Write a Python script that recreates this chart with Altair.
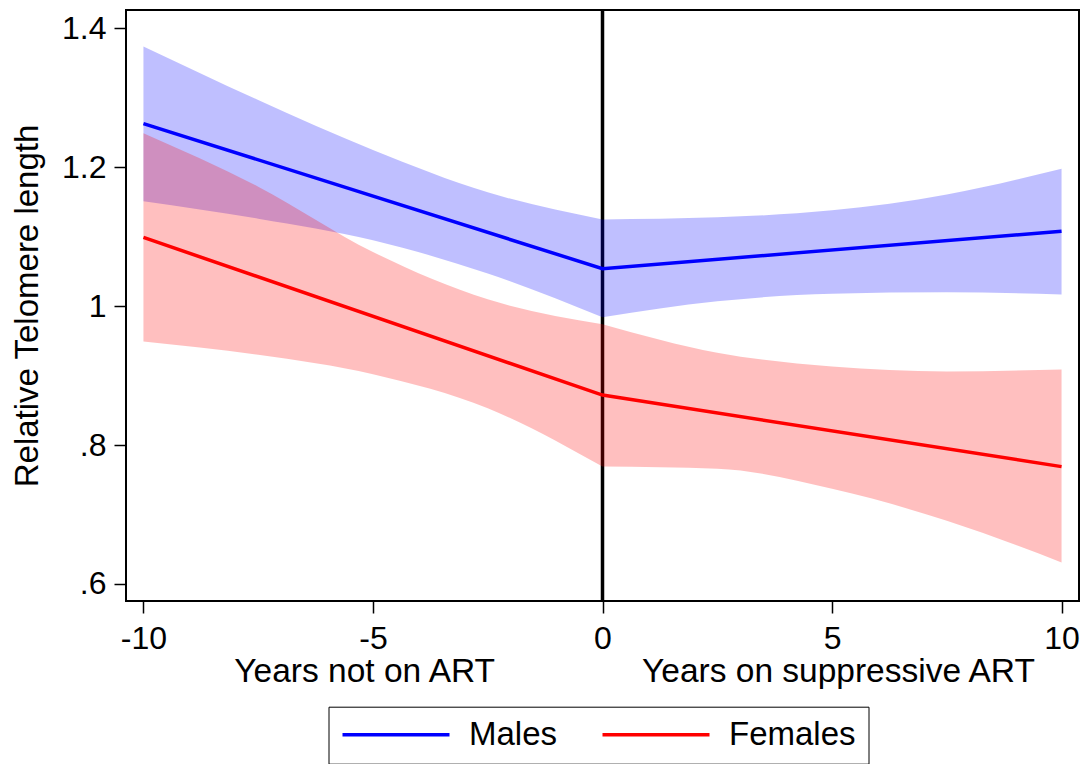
import altair as alt
import pandas as pd

FONT = "Liberation Sans"

# ---- data ----
series = ["Males", "Females"]
colors = ["#0000ff", "#ff0000"]

band_years = [-10, -7.5, -5, -2.5, 0, 2.5, 5, 7.5, 10]
male_hi = [1.374, 1.297, 1.225, 1.164, 1.125, 1.128, 1.138, 1.161, 1.198]
male_lo = [1.151, 1.126, 1.095, 1.047, 0.984, 1.007, 1.018, 1.020, 1.017]
female_hi = [1.249, 1.172, 1.078, 1.010, 0.974, 0.933, 0.913, 0.906, 0.909]
female_lo = [0.949, 0.930, 0.902, 0.853, 0.769, 0.766, 0.737, 0.691, 0.631]

line_years = [-10, 0, 10]
male_fit = [1.263, 1.054, 1.108]
female_fit = [1.099, 0.872, 0.769]

x_ticks = [-10, -5, 0, 5, 10]
y_ticks = [0.6, 0.8, 1.0, 1.2, 1.4]
x_titles = ["Years not on ART", "Years on suppressive ART"]
x_title_at = [-5.18, 5.14]

# ---- tables ----
band_rows = []
for name, hi, lo in [("Males", male_hi, male_lo), ("Females", female_hi, female_lo)]:
    for xv, h, l in zip(band_years, hi, lo):
        if xv <= 0:
            band_rows.append({"series": name, "seg": "pre", "x": xv, "hi": h, "lo": l})
        if xv >= 0:
            band_rows.append({"series": name, "seg": "post", "x": xv, "hi": h, "lo": l})
bands = pd.DataFrame(band_rows)

line_rows = []
for name, fit in [("Males", male_fit), ("Females", female_fit)]:
    for xv, v in zip(line_years, fit):
        line_rows.append({"series": name, "x": xv, "y": v})
lines = pd.DataFrame(line_rows)

titles_df = pd.DataFrame({"x": x_title_at, "t": x_titles})
zero_df = pd.DataFrame({"x": [0]})

x_scale = alt.Scale(domain=[-10.38, 10.38], nice=False, zero=False)
y_scale = alt.Scale(domain=[0.5755, 1.4265], nice=False, zero=False)

x_axis = alt.Axis(
    title=None, values=x_ticks, labelExpr="datum.value + ''", grid=False, domain=False,
    labelFont=FONT, labelFontSize=32, labelColor="black", labelBaseline="alphabetic",
    labelPadding=35, labelFlush=False, labelOverlap=False,
    tickSize=12, tickColor="black", tickWidth=1.5,
)
y_axis = alt.Axis(
    title="Relative Telomere length", values=y_ticks,
    labelExpr="datum.value == 1 ? '1' : replace(format(datum.value, '.1f'), '0.', '.')",
    grid=False, domain=False, labelFont=FONT, labelFontSize=32, labelColor="black",
    labelPadding=8, labelFlush=False, labelOverlap=False,
    tickSize=12, tickColor="black", tickWidth=1.5,
    titleFont=FONT, titleFontSize=33, titleFontWeight="normal", titleColor="black",
    titleAngle=270, titleX=-99, titleY=295.5, titleAlign="center", titleBaseline="middle",
)

X = alt.X("x:Q", scale=x_scale, axis=x_axis)

rule = alt.Chart(zero_df).mark_rule(color="black", strokeWidth=3.5).encode(x=X)


def band(name, col):
    return (
        alt.Chart(bands)
        .transform_filter(alt.datum.series == name)
        .mark_area(interpolate="monotone", opacity=0.25, color=col)
        .encode(
            x=X,
            y=alt.Y("hi:Q", scale=y_scale, axis=y_axis),
            y2="lo:Q",
            detail="seg:N",
        )
    )


line = alt.Chart(lines).mark_line(strokeWidth=3.5).encode(
    x=X,
    y=alt.Y("y:Q", scale=y_scale, axis=y_axis),
    color=alt.Color(
        "series:N",
        scale=alt.Scale(domain=series, range=colors),
        sort=series,
        legend=alt.Legend(
            title=None, orient="none", legendX=202.5, legendY=696.7, direction="horizontal",
            symbolType="stroke", symbolSize=11449, symbolStrokeWidth=3.5,
            labelFont=FONT, labelFontSize=33, labelColor="black", labelOffset=17.5,
            columnPadding=43, padding=12, strokeColor="black", clipHeight=32,
        ),
    ),
)

texts = alt.Chart(titles_df).mark_text(
    font=FONT, fontSize=33.5, color="black", align="center", baseline="alphabetic"
).encode(x=X, y=alt.value(672), text="t:N")

chart = (
    alt.layer(rule, band("Males", colors[0]), band("Females", colors[1]), line, texts)
    .properties(
        width=953, height=591,
        autosize=alt.AutoSizeParams(type="none"),
        padding={"left": 118, "top": 2, "right": 1, "bottom": 163},
        background="white",
    )
    .configure_view(stroke="black", strokeWidth=2)
)

chart.save("out.html", embed_options={"renderer": "svg", "actions": False})
